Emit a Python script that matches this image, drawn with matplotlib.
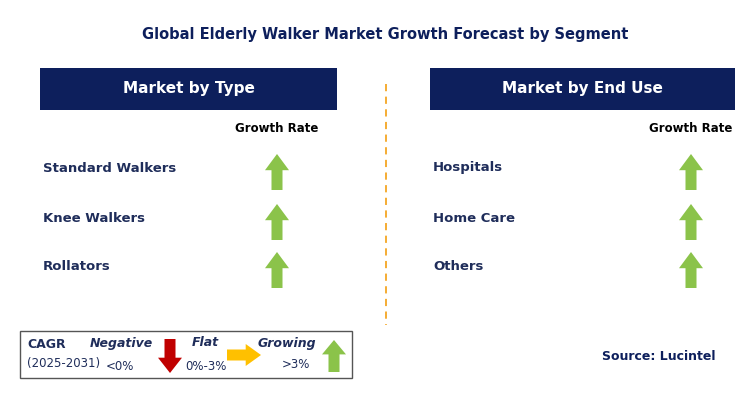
import matplotlib.pyplot as plt
from matplotlib.patches import Rectangle, Polygon

type_labels = ['Standard Walkers', 'Knee Walkers', 'Rollators']
type_growth = ['up', 'up', 'up']
enduse_labels = ['Hospitals', 'Home Care', 'Others']
enduse_growth = ['up', 'up', 'up']
row_y = [168, 218, 266]

NAVY = '#0d1f5c'
TXT = '#1f2d5a'
GREEN = '#8bc34a'
RED = '#c00000'
AMBER = '#ffc000'

fig = plt.figure(figsize=(7.49, 4.0), dpi=100)
ax = fig.add_axes([0, 0, 1, 1])
ax.set_xlim(0, 749)
ax.set_ylim(400, 0)
ax.axis('off')


def arrow(cx, cy, direction, color, h=36, w=24, shaft=11):
    # cx, cy = centre of the arrow
    hh = h * 0.45
    if direction == 'up':
        top, bot = cy - h / 2, cy + h / 2
        pts = [(cx, top), (cx + w / 2, top + hh), (cx + shaft / 2, top + hh),
               (cx + shaft / 2, bot), (cx - shaft / 2, bot), (cx - shaft / 2, top + hh),
               (cx - w / 2, top + hh)]
    elif direction == 'down':
        top, bot = cy - h / 2, cy + h / 2
        pts = [(cx, bot), (cx + w / 2, bot - hh), (cx + shaft / 2, bot - hh),
               (cx + shaft / 2, top), (cx - shaft / 2, top), (cx - shaft / 2, bot - hh),
               (cx - w / 2, bot - hh)]
    else:  # right
        l, r = cx - h / 2, cx + h / 2
        pts = [(r, cy), (r - hh, cy - w / 2), (r - hh, cy - shaft / 2),
               (l, cy - shaft / 2), (l, cy + shaft / 2), (r - hh, cy + shaft / 2),
               (r - hh, cy + w / 2)]
    ax.add_patch(Polygon(pts, closed=True, facecolor=color, edgecolor='none'))


ax.text(385, 35, 'Global Elderly Walker Market Growth Forecast by Segment',
        ha='center', va='center', fontsize=10.5, fontweight='bold', color=NAVY)

panels = [(40, 337, 'Market by Type', type_labels, type_growth, 277),
          (430, 735, 'Market by End Use', enduse_labels, enduse_growth, 691)]
for x0, x1, title, labels, growth, ax_x in panels:
    ax.add_patch(Rectangle((x0, 68), x1 - x0, 42, facecolor=NAVY, edgecolor='none'))
    ax.text((x0 + x1) / 2, 89, title, ha='center', va='center', fontsize=11,
            fontweight='bold', color='white')
    ax.text(ax_x, 129, 'Growth Rate', ha='center', va='center', fontsize=8.5,
            fontweight='bold', color='black')
    for lab, g, y in zip(labels, growth, row_y):
        ax.text(x0 + 3, y, lab, ha='left', va='center', fontsize=9.5,
                fontweight='bold', color=TXT)
        arrow(ax_x, y + 4, g, GREEN)

ax.plot([386, 386], [84, 325], ls=(0, (4, 3)), color='#f5a623', lw=1.3)

# legend
ax.add_patch(Rectangle((20, 331), 332, 47, facecolor='white', edgecolor='#555555', lw=1))
ax.text(27, 345, 'CAGR', fontsize=9, fontweight='bold', color=TXT, va='center')
ax.text(27, 363, '(2025-2031)', fontsize=8.5, color=TXT, va='center')
ax.text(121, 343, 'Negative', fontsize=9, fontweight='bold', style='italic', color=TXT, va='center', ha='center')
ax.text(120, 366, '<0%', fontsize=8.5, color=TXT, va='center', ha='center')
arrow(170, 356, 'down', RED, h=34, w=24, shaft=11)
ax.text(205, 343, 'Flat', fontsize=9, fontweight='bold', style='italic', color=TXT, va='center', ha='center')
ax.text(206, 366, '0%-3%', fontsize=8.5, color=TXT, va='center', ha='center')
arrow(244, 355, 'right', AMBER, h=34, w=22, shaft=11)
ax.text(287, 343, 'Growing', fontsize=9, fontweight='bold', style='italic', color=TXT, va='center', ha='center')
ax.text(296, 364, '>3%', fontsize=8.5, color=TXT, va='center', ha='center')
arrow(334, 356, 'up', GREEN, h=32, w=24, shaft=11)

ax.text(715, 356, 'Source: Lucintel', ha='right', va='center', fontsize=9,
        fontweight='bold', color=NAVY)

fig.savefig('out.png', dpi=100)
